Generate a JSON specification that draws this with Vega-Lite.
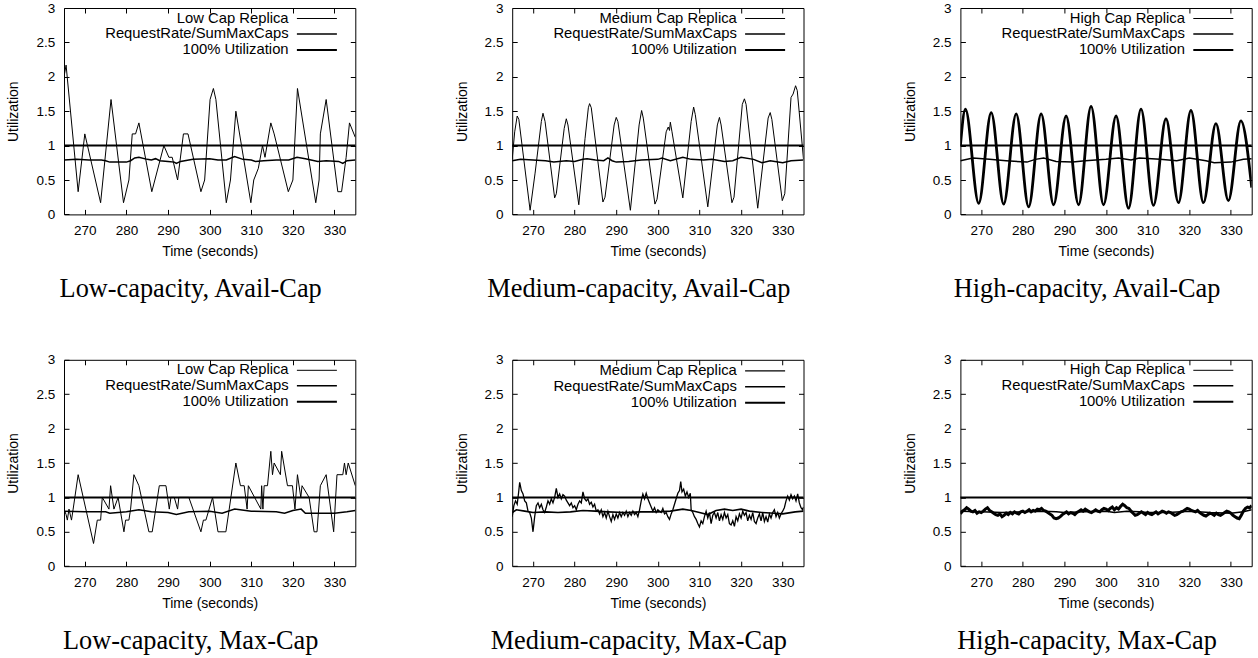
{
"$schema": "https://vega.github.io/schema/vega-lite/v6.json",
"padding": {"left": 6, "top": 0, "right": 0, "bottom": 0},
"datasets": {"d": [
{"p":"LA","s":"r","t":265,"u":2.0},{"p":"LA","s":"r","t":265.5,"u":2.17},{"p":"LA","s":"r","t":268.4,"u":0.33},{"p":"LA","s":"r","t":270,"u":1.17},{"p":"LA","s":"r","t":273.8,"u":0.17},{"p":"LA","s":"r","t":276.3,"u":1.67},{"p":"LA","s":"r","t":279.3,"u":0.17},{"p":"LA","s":"r","t":280.6,"u":0.5},{"p":"LA","s":"r","t":281.4,"u":1.17},{"p":"LA","s":"r","t":282.2,"u":1.17},{"p":"LA","s":"r","t":283,"u":1.33},{"p":"LA","s":"r","t":286.1,"u":0.33},{"p":"LA","s":"r","t":289,"u":1.0},{"p":"LA","s":"r","t":290.2,"u":0.83},{"p":"LA","s":"r","t":291,"u":0.83},{"p":"LA","s":"r","t":292.3,"u":0.5},{"p":"LA","s":"r","t":293.7,"u":1.17},{"p":"LA","s":"r","t":294.8,"u":1.17},{"p":"LA","s":"r","t":297.9,"u":0.33},{"p":"LA","s":"r","t":298.8,"u":0.5},{"p":"LA","s":"r","t":300.1,"u":1.67},{"p":"LA","s":"r","t":300.9,"u":1.83},{"p":"LA","s":"r","t":301.5,"u":1.67},{"p":"LA","s":"r","t":304,"u":0.17},{"p":"LA","s":"r","t":305,"u":0.5},{"p":"LA","s":"r","t":306.3,"u":1.5},{"p":"LA","s":"r","t":309.9,"u":0.17},{"p":"LA","s":"r","t":310.6,"u":0.5},{"p":"LA","s":"r","t":311.7,"u":0.67},{"p":"LA","s":"r","t":312.7,"u":1.0},{"p":"LA","s":"r","t":313.3,"u":0.83},{"p":"LA","s":"r","t":314.7,"u":1.33},{"p":"LA","s":"r","t":315.5,"u":1.17},{"p":"LA","s":"r","t":318.9,"u":0.33},{"p":"LA","s":"r","t":320,"u":0.5},{"p":"LA","s":"r","t":321.1,"u":1.83},{"p":"LA","s":"r","t":325.5,"u":0.17},{"p":"LA","s":"r","t":326.3,"u":0.5},{"p":"LA","s":"r","t":326.6,"u":1.17},{"p":"LA","s":"r","t":328,"u":1.67},{"p":"LA","s":"r","t":330.8,"u":0.33},{"p":"LA","s":"r","t":331.7,"u":0.33},{"p":"LA","s":"r","t":332.8,"u":0.83},{"p":"LA","s":"r","t":333.6,"u":1.33},{"p":"LA","s":"r","t":335,"u":1.12},
{"p":"LA","s":"q","t":265,"u":0.79},{"p":"LA","s":"q","t":268,"u":0.8},{"p":"LA","s":"q","t":271,"u":0.79},{"p":"LA","s":"q","t":274,"u":0.79},{"p":"LA","s":"q","t":275,"u":0.78},{"p":"LA","s":"q","t":276,"u":0.76},{"p":"LA","s":"q","t":280,"u":0.76},{"p":"LA","s":"q","t":281,"u":0.78},{"p":"LA","s":"q","t":282,"u":0.82},{"p":"LA","s":"q","t":283,"u":0.83},{"p":"LA","s":"q","t":285,"u":0.8},{"p":"LA","s":"q","t":286,"u":0.79},{"p":"LA","s":"q","t":287,"u":0.81},{"p":"LA","s":"q","t":288,"u":0.78},{"p":"LA","s":"q","t":290,"u":0.77},{"p":"LA","s":"q","t":291.5,"u":0.76},{"p":"LA","s":"q","t":292,"u":0.74},{"p":"LA","s":"q","t":293,"u":0.77},{"p":"LA","s":"q","t":296,"u":0.8},{"p":"LA","s":"q","t":300,"u":0.81},{"p":"LA","s":"q","t":302,"u":0.79},{"p":"LA","s":"q","t":304,"u":0.79},{"p":"LA","s":"q","t":306,"u":0.84},{"p":"LA","s":"q","t":308,"u":0.8},{"p":"LA","s":"q","t":310,"u":0.79},{"p":"LA","s":"q","t":311,"u":0.77},{"p":"LA","s":"q","t":313,"u":0.78},{"p":"LA","s":"q","t":316,"u":0.79},{"p":"LA","s":"q","t":319,"u":0.79},{"p":"LA","s":"q","t":321,"u":0.83},{"p":"LA","s":"q","t":323,"u":0.81},{"p":"LA","s":"q","t":326,"u":0.77},{"p":"LA","s":"q","t":328,"u":0.78},{"p":"LA","s":"q","t":331,"u":0.77},{"p":"LA","s":"q","t":332,"u":0.74},{"p":"LA","s":"q","t":333,"u":0.78},{"p":"LA","s":"q","t":335,"u":0.79},
{"p":"MA","s":"r","t":265,"u":0.8},{"p":"MA","s":"r","t":265.6,"u":1.2},{"p":"MA","s":"r","t":266.2,"u":1.43},{"p":"MA","s":"r","t":266.6,"u":1.38},{"p":"MA","s":"r","t":269.3,"u":0.06},{"p":"MA","s":"r","t":270.5,"u":0.6},{"p":"MA","s":"r","t":272,"u":1.35},{"p":"MA","s":"r","t":272.4,"u":1.47},{"p":"MA","s":"r","t":272.9,"u":1.35},{"p":"MA","s":"r","t":275.2,"u":0.24},{"p":"MA","s":"r","t":275.6,"u":0.3},{"p":"MA","s":"r","t":277.5,"u":1.25},{"p":"MA","s":"r","t":278,"u":1.39},{"p":"MA","s":"r","t":278.4,"u":1.3},{"p":"MA","s":"r","t":281,"u":0.14},{"p":"MA","s":"r","t":282.5,"u":1.1},{"p":"MA","s":"r","t":283.3,"u":1.55},{"p":"MA","s":"r","t":283.6,"u":1.61},{"p":"MA","s":"r","t":284,"u":1.55},{"p":"MA","s":"r","t":286.8,"u":0.18},{"p":"MA","s":"r","t":287.3,"u":0.25},{"p":"MA","s":"r","t":289.5,"u":1.3},{"p":"MA","s":"r","t":290,"u":1.41},{"p":"MA","s":"r","t":290.4,"u":1.35},{"p":"MA","s":"r","t":293.4,"u":0.06},{"p":"MA","s":"r","t":295.5,"u":1.3},{"p":"MA","s":"r","t":296.1,"u":1.51},{"p":"MA","s":"r","t":296.5,"u":1.4},{"p":"MA","s":"r","t":299.3,"u":0.15},{"p":"MA","s":"r","t":299.8,"u":0.22},{"p":"MA","s":"r","t":302,"u":1.2},{"p":"MA","s":"r","t":302.5,"u":1.27},{"p":"MA","s":"r","t":302.8,"u":1.22},{"p":"MA","s":"r","t":303,"u":1.34},{"p":"MA","s":"r","t":303.4,"u":1.2},{"p":"MA","s":"r","t":306,"u":0.24},{"p":"MA","s":"r","t":308,"u":1.35},{"p":"MA","s":"r","t":308.6,"u":1.56},{"p":"MA","s":"r","t":309,"u":1.45},{"p":"MA","s":"r","t":312,"u":0.11},{"p":"MA","s":"r","t":314.3,"u":1.3},{"p":"MA","s":"r","t":314.8,"u":1.41},{"p":"MA","s":"r","t":315.2,"u":1.3},{"p":"MA","s":"r","t":317.8,"u":0.17},{"p":"MA","s":"r","t":318.3,"u":0.25},{"p":"MA","s":"r","t":320.3,"u":1.6},{"p":"MA","s":"r","t":320.8,"u":1.68},{"p":"MA","s":"r","t":321.2,"u":1.6},{"p":"MA","s":"r","t":324,"u":0.09},{"p":"MA","s":"r","t":326.5,"u":1.4},{"p":"MA","s":"r","t":327,"u":1.48},{"p":"MA","s":"r","t":327.4,"u":1.38},{"p":"MA","s":"r","t":329.9,"u":0.2},{"p":"MA","s":"r","t":330.5,"u":0.3},{"p":"MA","s":"r","t":332,"u":1.7},{"p":"MA","s":"r","t":332.5,"u":1.75},{"p":"MA","s":"r","t":333.1,"u":1.87},{"p":"MA","s":"r","t":333.5,"u":1.8},{"p":"MA","s":"r","t":335,"u":0.8},
{"p":"MA","s":"q","t":265,"u":0.78},{"p":"MA","s":"q","t":267,"u":0.8},{"p":"MA","s":"q","t":270,"u":0.79},{"p":"MA","s":"q","t":273,"u":0.78},{"p":"MA","s":"q","t":275,"u":0.76},{"p":"MA","s":"q","t":278,"u":0.78},{"p":"MA","s":"q","t":280,"u":0.77},{"p":"MA","s":"q","t":282,"u":0.8},{"p":"MA","s":"q","t":283,"u":0.81},{"p":"MA","s":"q","t":285,"u":0.79},{"p":"MA","s":"q","t":287,"u":0.78},{"p":"MA","s":"q","t":288,"u":0.82},{"p":"MA","s":"q","t":289,"u":0.78},{"p":"MA","s":"q","t":290,"u":0.76},{"p":"MA","s":"q","t":293,"u":0.77},{"p":"MA","s":"q","t":296,"u":0.79},{"p":"MA","s":"q","t":300,"u":0.8},{"p":"MA","s":"q","t":301,"u":0.82},{"p":"MA","s":"q","t":303,"u":0.78},{"p":"MA","s":"q","t":306,"u":0.83},{"p":"MA","s":"q","t":308,"u":0.8},{"p":"MA","s":"q","t":311,"u":0.79},{"p":"MA","s":"q","t":313,"u":0.8},{"p":"MA","s":"q","t":316,"u":0.77},{"p":"MA","s":"q","t":318,"u":0.78},{"p":"MA","s":"q","t":320,"u":0.83},{"p":"MA","s":"q","t":323,"u":0.8},{"p":"MA","s":"q","t":325,"u":0.75},{"p":"MA","s":"q","t":327,"u":0.78},{"p":"MA","s":"q","t":330,"u":0.75},{"p":"MA","s":"q","t":332,"u":0.78},{"p":"MA","s":"q","t":335,"u":0.79},
{"p":"HA","s":"r","t":265,"u":1.0},{"p":"HA","s":"r","t":266.2,"u":1.53},{"p":"HA","s":"r","t":269.4,"u":0.16},{"p":"HA","s":"r","t":272.4,"u":1.48},{"p":"HA","s":"r","t":275.4,"u":0.15},{"p":"HA","s":"r","t":278.4,"u":1.46},{"p":"HA","s":"r","t":281.4,"u":0.11},{"p":"HA","s":"r","t":284.4,"u":1.46},{"p":"HA","s":"r","t":287.4,"u":0.14},{"p":"HA","s":"r","t":290.4,"u":1.43},{"p":"HA","s":"r","t":293.4,"u":0.14},{"p":"HA","s":"r","t":296.4,"u":1.57},{"p":"HA","s":"r","t":299.4,"u":0.14},{"p":"HA","s":"r","t":302.4,"u":1.43},{"p":"HA","s":"r","t":305.4,"u":0.09},{"p":"HA","s":"r","t":308.4,"u":1.53},{"p":"HA","s":"r","t":311.4,"u":0.13},{"p":"HA","s":"r","t":314.4,"u":1.39},{"p":"HA","s":"r","t":317.4,"u":0.17},{"p":"HA","s":"r","t":320.4,"u":1.51},{"p":"HA","s":"r","t":323.4,"u":0.17},{"p":"HA","s":"r","t":326.4,"u":1.32},{"p":"HA","s":"r","t":329.4,"u":0.2},{"p":"HA","s":"r","t":332.4,"u":1.36},{"p":"HA","s":"r","t":335,"u":0.39},
{"p":"HA","s":"q","t":265,"u":0.78},{"p":"HA","s":"q","t":268,"u":0.82},{"p":"HA","s":"q","t":272,"u":0.8},{"p":"HA","s":"q","t":276,"u":0.78},{"p":"HA","s":"q","t":281,"u":0.76},{"p":"HA","s":"q","t":283,"u":0.8},{"p":"HA","s":"q","t":285,"u":0.82},{"p":"HA","s":"q","t":288,"u":0.77},{"p":"HA","s":"q","t":292,"u":0.76},{"p":"HA","s":"q","t":295,"u":0.78},{"p":"HA","s":"q","t":300,"u":0.8},{"p":"HA","s":"q","t":303,"u":0.82},{"p":"HA","s":"q","t":306,"u":0.79},{"p":"HA","s":"q","t":308,"u":0.82},{"p":"HA","s":"q","t":313,"u":0.8},{"p":"HA","s":"q","t":317,"u":0.78},{"p":"HA","s":"q","t":320,"u":0.82},{"p":"HA","s":"q","t":324,"u":0.78},{"p":"HA","s":"q","t":326,"u":0.75},{"p":"HA","s":"q","t":330,"u":0.76},{"p":"HA","s":"q","t":333,"u":0.8},{"p":"HA","s":"q","t":335,"u":0.81},
{"p":"LM","s":"r","t":265,"u":0.83},{"p":"LM","s":"r","t":265.5,"u":0.75},{"p":"LM","s":"r","t":265.8,"u":0.67},{"p":"LM","s":"r","t":266.2,"u":0.83},{"p":"LM","s":"r","t":266.8,"u":0.67},{"p":"LM","s":"r","t":267.2,"u":0.83},{"p":"LM","s":"r","t":268.4,"u":1.33},{"p":"LM","s":"r","t":272.1,"u":0.33},{"p":"LM","s":"r","t":273,"u":0.67},{"p":"LM","s":"r","t":273.8,"u":0.67},{"p":"LM","s":"r","t":274.2,"u":1.0},{"p":"LM","s":"r","t":275.8,"u":0.83},{"p":"LM","s":"r","t":276.2,"u":1.17},{"p":"LM","s":"r","t":277,"u":0.83},{"p":"LM","s":"r","t":278,"u":1.0},{"p":"LM","s":"r","t":279.4,"u":0.5},{"p":"LM","s":"r","t":279.8,"u":0.67},{"p":"LM","s":"r","t":280.6,"u":0.67},{"p":"LM","s":"r","t":281,"u":0.83},{"p":"LM","s":"r","t":281.8,"u":1.33},{"p":"LM","s":"r","t":283,"u":1.17},{"p":"LM","s":"r","t":285.4,"u":0.5},{"p":"LM","s":"r","t":286.2,"u":0.5},{"p":"LM","s":"r","t":287.9,"u":1.17},{"p":"LM","s":"r","t":289.5,"u":1.17},{"p":"LM","s":"r","t":290.3,"u":0.83},{"p":"LM","s":"r","t":290.7,"u":1.0},{"p":"LM","s":"r","t":291.5,"u":1.0},{"p":"LM","s":"r","t":292.3,"u":0.83},{"p":"LM","s":"r","t":292.6,"u":1.0},{"p":"LM","s":"r","t":295,"u":1.0},{"p":"LM","s":"r","t":297.9,"u":0.5},{"p":"LM","s":"r","t":298.5,"u":0.67},{"p":"LM","s":"r","t":299.1,"u":0.67},{"p":"LM","s":"r","t":300.7,"u":1.0},{"p":"LM","s":"r","t":302,"u":0.5},{"p":"LM","s":"r","t":303.9,"u":0.5},{"p":"LM","s":"r","t":304.7,"u":0.83},{"p":"LM","s":"r","t":306.3,"u":1.5},{"p":"LM","s":"r","t":307.4,"u":1.17},{"p":"LM","s":"r","t":308.3,"u":1.17},{"p":"LM","s":"r","t":309,"u":0.83},{"p":"LM","s":"r","t":309.3,"u":1.17},{"p":"LM","s":"r","t":312.3,"u":0.83},{"p":"LM","s":"r","t":312.5,"u":1.17},{"p":"LM","s":"r","t":312.8,"u":0.83},{"p":"LM","s":"r","t":313.1,"u":1.17},{"p":"LM","s":"r","t":313.9,"u":1.17},{"p":"LM","s":"r","t":314.7,"u":1.67},{"p":"LM","s":"r","t":315.1,"u":1.33},{"p":"LM","s":"r","t":315.5,"u":1.5},{"p":"LM","s":"r","t":317,"u":1.33},{"p":"LM","s":"r","t":317.3,"u":1.67},{"p":"LM","s":"r","t":318.7,"u":1.17},{"p":"LM","s":"r","t":319.9,"u":1.17},{"p":"LM","s":"r","t":320.5,"u":0.83},{"p":"LM","s":"r","t":321.1,"u":1.33},{"p":"LM","s":"r","t":321.9,"u":1.0},{"p":"LM","s":"r","t":322.2,"u":1.17},{"p":"LM","s":"r","t":323.9,"u":1.0},{"p":"LM","s":"r","t":325.1,"u":0.5},{"p":"LM","s":"r","t":325.8,"u":0.5},{"p":"LM","s":"r","t":326.6,"u":1.17},{"p":"LM","s":"r","t":328,"u":1.33},{"p":"LM","s":"r","t":329.8,"u":0.5},{"p":"LM","s":"r","t":330.6,"u":1.33},{"p":"LM","s":"r","t":332,"u":1.33},{"p":"LM","s":"r","t":332.4,"u":1.5},{"p":"LM","s":"r","t":332.8,"u":1.33},{"p":"LM","s":"r","t":333.3,"u":1.5},{"p":"LM","s":"r","t":335,"u":1.17},
{"p":"LM","s":"q","t":265,"u":0.8},{"p":"LM","s":"q","t":270,"u":0.79},{"p":"LM","s":"q","t":275,"u":0.79},{"p":"LM","s":"q","t":276,"u":0.77},{"p":"LM","s":"q","t":280,"u":0.79},{"p":"LM","s":"q","t":283,"u":0.82},{"p":"LM","s":"q","t":286,"u":0.79},{"p":"LM","s":"q","t":290,"u":0.78},{"p":"LM","s":"q","t":292,"u":0.75},{"p":"LM","s":"q","t":295,"u":0.79},{"p":"LM","s":"q","t":300,"u":0.8},{"p":"LM","s":"q","t":303,"u":0.77},{"p":"LM","s":"q","t":306,"u":0.83},{"p":"LM","s":"q","t":310,"u":0.8},{"p":"LM","s":"q","t":316,"u":0.79},{"p":"LM","s":"q","t":318,"u":0.77},{"p":"LM","s":"q","t":320,"u":0.81},{"p":"LM","s":"q","t":322,"u":0.83},{"p":"LM","s":"q","t":323,"u":0.77},{"p":"LM","s":"q","t":330,"u":0.77},{"p":"LM","s":"q","t":333,"u":0.79},{"p":"LM","s":"q","t":335,"u":0.81},
{"p":"MM","s":"r","t":265,"u":0.72},{"p":"MM","s":"r","t":265.4,"u":0.88},{"p":"MM","s":"r","t":265.8,"u":0.95},{"p":"MM","s":"r","t":266.2,"u":0.9},{"p":"MM","s":"r","t":266.5,"u":1.05},{"p":"MM","s":"r","t":266.8,"u":1.22},{"p":"MM","s":"r","t":267.2,"u":1.1},{"p":"MM","s":"r","t":267.6,"u":1.05},{"p":"MM","s":"r","t":268,"u":0.95},{"p":"MM","s":"r","t":268.4,"u":0.92},{"p":"MM","s":"r","t":268.8,"u":0.8},{"p":"MM","s":"r","t":269.2,"u":0.78},{"p":"MM","s":"r","t":269.6,"u":0.7},{"p":"MM","s":"r","t":270,"u":0.5},{"p":"MM","s":"r","t":270.4,"u":0.72},{"p":"MM","s":"r","t":270.8,"u":0.88},{"p":"MM","s":"r","t":271.2,"u":0.92},{"p":"MM","s":"r","t":271.6,"u":0.85},{"p":"MM","s":"r","t":272,"u":0.9},{"p":"MM","s":"r","t":272.4,"u":0.82},{"p":"MM","s":"r","t":272.8,"u":0.78},{"p":"MM","s":"r","t":273.2,"u":0.86},{"p":"MM","s":"r","t":273.6,"u":0.95},{"p":"MM","s":"r","t":274,"u":0.9},{"p":"MM","s":"r","t":274.4,"u":0.98},{"p":"MM","s":"r","t":274.8,"u":0.92},{"p":"MM","s":"r","t":275.2,"u":1.0},{"p":"MM","s":"r","t":275.6,"u":1.13},{"p":"MM","s":"r","t":276,"u":1.0},{"p":"MM","s":"r","t":276.4,"u":1.05},{"p":"MM","s":"r","t":276.8,"u":0.98},{"p":"MM","s":"r","t":277.2,"u":1.04},{"p":"MM","s":"r","t":277.6,"u":1.02},{"p":"MM","s":"r","t":278,"u":0.96},{"p":"MM","s":"r","t":278.4,"u":0.92},{"p":"MM","s":"r","t":278.8,"u":0.88},{"p":"MM","s":"r","t":279.2,"u":0.92},{"p":"MM","s":"r","t":279.6,"u":0.85},{"p":"MM","s":"r","t":280,"u":0.88},{"p":"MM","s":"r","t":280.4,"u":0.82},{"p":"MM","s":"r","t":280.8,"u":0.9},{"p":"MM","s":"r","t":281.2,"u":0.95},{"p":"MM","s":"r","t":281.6,"u":0.92},{"p":"MM","s":"r","t":282,"u":1.08},{"p":"MM","s":"r","t":282.4,"u":0.98},{"p":"MM","s":"r","t":282.8,"u":0.95},{"p":"MM","s":"r","t":283.2,"u":0.98},{"p":"MM","s":"r","t":283.6,"u":0.9},{"p":"MM","s":"r","t":284,"u":0.93},{"p":"MM","s":"r","t":284.4,"u":0.86},{"p":"MM","s":"r","t":284.8,"u":0.9},{"p":"MM","s":"r","t":285.2,"u":0.8},{"p":"MM","s":"r","t":285.6,"u":0.82},{"p":"MM","s":"r","t":286,"u":0.76},{"p":"MM","s":"r","t":286.4,"u":0.82},{"p":"MM","s":"r","t":286.8,"u":0.72},{"p":"MM","s":"r","t":287.2,"u":0.78},{"p":"MM","s":"r","t":287.6,"u":0.7},{"p":"MM","s":"r","t":288,"u":0.8},{"p":"MM","s":"r","t":288.4,"u":0.72},{"p":"MM","s":"r","t":288.8,"u":0.65},{"p":"MM","s":"r","t":289.2,"u":0.75},{"p":"MM","s":"r","t":289.6,"u":0.68},{"p":"MM","s":"r","t":290,"u":0.76},{"p":"MM","s":"r","t":290.4,"u":0.7},{"p":"MM","s":"r","t":290.8,"u":0.78},{"p":"MM","s":"r","t":291.2,"u":0.72},{"p":"MM","s":"r","t":291.6,"u":0.78},{"p":"MM","s":"r","t":292,"u":0.74},{"p":"MM","s":"r","t":292.4,"u":0.8},{"p":"MM","s":"r","t":292.8,"u":0.72},{"p":"MM","s":"r","t":293.2,"u":0.78},{"p":"MM","s":"r","t":293.6,"u":0.74},{"p":"MM","s":"r","t":294,"u":0.8},{"p":"MM","s":"r","t":294.4,"u":0.75},{"p":"MM","s":"r","t":294.8,"u":0.78},{"p":"MM","s":"r","t":295.2,"u":0.72},{"p":"MM","s":"r","t":295.6,"u":0.82},{"p":"MM","s":"r","t":296,"u":0.95},{"p":"MM","s":"r","t":296.4,"u":1.05},{"p":"MM","s":"r","t":296.8,"u":0.98},{"p":"MM","s":"r","t":297.2,"u":1.06},{"p":"MM","s":"r","t":297.6,"u":0.98},{"p":"MM","s":"r","t":298,"u":0.92},{"p":"MM","s":"r","t":298.4,"u":0.86},{"p":"MM","s":"r","t":298.8,"u":0.8},{"p":"MM","s":"r","t":299.2,"u":0.85},{"p":"MM","s":"r","t":299.6,"u":0.78},{"p":"MM","s":"r","t":300,"u":0.82},{"p":"MM","s":"r","t":300.4,"u":0.8},{"p":"MM","s":"r","t":300.8,"u":0.78},{"p":"MM","s":"r","t":301.2,"u":0.84},{"p":"MM","s":"r","t":301.6,"u":0.76},{"p":"MM","s":"r","t":302,"u":0.78},{"p":"MM","s":"r","t":302.4,"u":0.72},{"p":"MM","s":"r","t":302.8,"u":0.68},{"p":"MM","s":"r","t":303.2,"u":0.76},{"p":"MM","s":"r","t":303.6,"u":0.82},{"p":"MM","s":"r","t":304,"u":0.9},{"p":"MM","s":"r","t":304.4,"u":0.98},{"p":"MM","s":"r","t":304.8,"u":1.06},{"p":"MM","s":"r","t":305.2,"u":1.1},{"p":"MM","s":"r","t":305.5,"u":1.23},{"p":"MM","s":"r","t":305.8,"u":1.08},{"p":"MM","s":"r","t":306.2,"u":1.12},{"p":"MM","s":"r","t":306.6,"u":1.02},{"p":"MM","s":"r","t":307,"u":1.08},{"p":"MM","s":"r","t":307.4,"u":1.0},{"p":"MM","s":"r","t":307.8,"u":1.06},{"p":"MM","s":"r","t":308,"u":0.82},{"p":"MM","s":"r","t":308.4,"u":0.78},{"p":"MM","s":"r","t":308.8,"u":0.72},{"p":"MM","s":"r","t":309.2,"u":0.68},{"p":"MM","s":"r","t":309.6,"u":0.62},{"p":"MM","s":"r","t":310,"u":0.57},{"p":"MM","s":"r","t":310.4,"u":0.66},{"p":"MM","s":"r","t":310.8,"u":0.62},{"p":"MM","s":"r","t":311.2,"u":0.72},{"p":"MM","s":"r","t":311.6,"u":0.8},{"p":"MM","s":"r","t":312,"u":0.7},{"p":"MM","s":"r","t":312.4,"u":0.78},{"p":"MM","s":"r","t":312.8,"u":0.62},{"p":"MM","s":"r","t":313.2,"u":0.74},{"p":"MM","s":"r","t":313.6,"u":0.78},{"p":"MM","s":"r","t":314,"u":0.7},{"p":"MM","s":"r","t":314.4,"u":0.78},{"p":"MM","s":"r","t":314.8,"u":0.66},{"p":"MM","s":"r","t":315.2,"u":0.75},{"p":"MM","s":"r","t":315.6,"u":0.68},{"p":"MM","s":"r","t":316,"u":0.78},{"p":"MM","s":"r","t":316.4,"u":0.7},{"p":"MM","s":"r","t":316.8,"u":0.75},{"p":"MM","s":"r","t":317.2,"u":0.62},{"p":"MM","s":"r","t":317.6,"u":0.6},{"p":"MM","s":"r","t":318,"u":0.66},{"p":"MM","s":"r","t":318.4,"u":0.58},{"p":"MM","s":"r","t":318.8,"u":0.72},{"p":"MM","s":"r","t":319.2,"u":0.66},{"p":"MM","s":"r","t":319.6,"u":0.76},{"p":"MM","s":"r","t":320,"u":0.7},{"p":"MM","s":"r","t":320.4,"u":0.8},{"p":"MM","s":"r","t":320.8,"u":0.74},{"p":"MM","s":"r","t":321.2,"u":0.78},{"p":"MM","s":"r","t":321.6,"u":0.66},{"p":"MM","s":"r","t":322,"u":0.74},{"p":"MM","s":"r","t":322.4,"u":0.68},{"p":"MM","s":"r","t":322.8,"u":0.78},{"p":"MM","s":"r","t":323.2,"u":0.65},{"p":"MM","s":"r","t":323.6,"u":0.62},{"p":"MM","s":"r","t":324,"u":0.7},{"p":"MM","s":"r","t":324.4,"u":0.76},{"p":"MM","s":"r","t":324.8,"u":0.66},{"p":"MM","s":"r","t":325.2,"u":0.78},{"p":"MM","s":"r","t":325.6,"u":0.65},{"p":"MM","s":"r","t":326,"u":0.72},{"p":"MM","s":"r","t":326.4,"u":0.64},{"p":"MM","s":"r","t":326.8,"u":0.76},{"p":"MM","s":"r","t":327.2,"u":0.7},{"p":"MM","s":"r","t":327.6,"u":0.78},{"p":"MM","s":"r","t":328,"u":0.82},{"p":"MM","s":"r","t":328.4,"u":0.72},{"p":"MM","s":"r","t":328.8,"u":0.78},{"p":"MM","s":"r","t":329.2,"u":0.7},{"p":"MM","s":"r","t":329.6,"u":0.76},{"p":"MM","s":"r","t":330,"u":0.8},{"p":"MM","s":"r","t":330.4,"u":0.85},{"p":"MM","s":"r","t":330.8,"u":0.95},{"p":"MM","s":"r","t":331.2,"u":1.02},{"p":"MM","s":"r","t":331.6,"u":0.96},{"p":"MM","s":"r","t":332,"u":1.04},{"p":"MM","s":"r","t":332.4,"u":0.98},{"p":"MM","s":"r","t":332.8,"u":1.02},{"p":"MM","s":"r","t":333.2,"u":0.95},{"p":"MM","s":"r","t":333.6,"u":1.05},{"p":"MM","s":"r","t":334,"u":0.92},{"p":"MM","s":"r","t":334.4,"u":0.85},{"p":"MM","s":"r","t":334.8,"u":0.82},{"p":"MM","s":"r","t":335,"u":0.86},
{"p":"MM","s":"q","t":265,"u":0.78},{"p":"MM","s":"q","t":266,"u":0.82},{"p":"MM","s":"q","t":268,"u":0.8},{"p":"MM","s":"q","t":270,"u":0.78},{"p":"MM","s":"q","t":273,"u":0.79},{"p":"MM","s":"q","t":276,"u":0.78},{"p":"MM","s":"q","t":279,"u":0.79},{"p":"MM","s":"q","t":282,"u":0.81},{"p":"MM","s":"q","t":285,"u":0.8},{"p":"MM","s":"q","t":288,"u":0.79},{"p":"MM","s":"q","t":292,"u":0.78},{"p":"MM","s":"q","t":296,"u":0.79},{"p":"MM","s":"q","t":300,"u":0.79},{"p":"MM","s":"q","t":303,"u":0.8},{"p":"MM","s":"q","t":306,"u":0.83},{"p":"MM","s":"q","t":308,"u":0.81},{"p":"MM","s":"q","t":310,"u":0.78},{"p":"MM","s":"q","t":312,"u":0.75},{"p":"MM","s":"q","t":314,"u":0.81},{"p":"MM","s":"q","t":316,"u":0.83},{"p":"MM","s":"q","t":318,"u":0.81},{"p":"MM","s":"q","t":320,"u":0.83},{"p":"MM","s":"q","t":322,"u":0.8},{"p":"MM","s":"q","t":325,"u":0.78},{"p":"MM","s":"q","t":328,"u":0.77},{"p":"MM","s":"q","t":330,"u":0.76},{"p":"MM","s":"q","t":333,"u":0.79},{"p":"MM","s":"q","t":335,"u":0.8},
{"p":"HM","s":"r","t":265,"u":0.76},{"p":"HM","s":"r","t":265.5,"u":0.8},{"p":"HM","s":"r","t":266,"u":0.82},{"p":"HM","s":"r","t":266.5,"u":0.85},{"p":"HM","s":"r","t":267,"u":0.83},{"p":"HM","s":"r","t":267.5,"u":0.8},{"p":"HM","s":"r","t":268,"u":0.79},{"p":"HM","s":"r","t":268.5,"u":0.81},{"p":"HM","s":"r","t":269,"u":0.77},{"p":"HM","s":"r","t":269.5,"u":0.79},{"p":"HM","s":"r","t":270,"u":0.78},{"p":"HM","s":"r","t":270.5,"u":0.8},{"p":"HM","s":"r","t":271,"u":0.83},{"p":"HM","s":"r","t":271.5,"u":0.85},{"p":"HM","s":"r","t":272,"u":0.81},{"p":"HM","s":"r","t":272.5,"u":0.79},{"p":"HM","s":"r","t":273,"u":0.77},{"p":"HM","s":"r","t":273.5,"u":0.75},{"p":"HM","s":"r","t":274,"u":0.74},{"p":"HM","s":"r","t":274.5,"u":0.76},{"p":"HM","s":"r","t":275,"u":0.72},{"p":"HM","s":"r","t":275.5,"u":0.74},{"p":"HM","s":"r","t":276,"u":0.77},{"p":"HM","s":"r","t":276.5,"u":0.75},{"p":"HM","s":"r","t":277,"u":0.78},{"p":"HM","s":"r","t":277.5,"u":0.76},{"p":"HM","s":"r","t":278,"u":0.79},{"p":"HM","s":"r","t":278.5,"u":0.77},{"p":"HM","s":"r","t":279,"u":0.76},{"p":"HM","s":"r","t":279.5,"u":0.79},{"p":"HM","s":"r","t":280,"u":0.8},{"p":"HM","s":"r","t":280.5,"u":0.78},{"p":"HM","s":"r","t":281,"u":0.8},{"p":"HM","s":"r","t":281.5,"u":0.82},{"p":"HM","s":"r","t":282,"u":0.79},{"p":"HM","s":"r","t":282.5,"u":0.81},{"p":"HM","s":"r","t":283,"u":0.8},{"p":"HM","s":"r","t":283.5,"u":0.83},{"p":"HM","s":"r","t":284,"u":0.82},{"p":"HM","s":"r","t":284.5,"u":0.84},{"p":"HM","s":"r","t":285,"u":0.81},{"p":"HM","s":"r","t":285.5,"u":0.8},{"p":"HM","s":"r","t":286,"u":0.78},{"p":"HM","s":"r","t":286.5,"u":0.76},{"p":"HM","s":"r","t":287,"u":0.74},{"p":"HM","s":"r","t":287.5,"u":0.7},{"p":"HM","s":"r","t":288,"u":0.69},{"p":"HM","s":"r","t":288.5,"u":0.7},{"p":"HM","s":"r","t":289,"u":0.72},{"p":"HM","s":"r","t":289.5,"u":0.75},{"p":"HM","s":"r","t":290,"u":0.77},{"p":"HM","s":"r","t":290.5,"u":0.79},{"p":"HM","s":"r","t":291,"u":0.76},{"p":"HM","s":"r","t":291.5,"u":0.78},{"p":"HM","s":"r","t":292,"u":0.77},{"p":"HM","s":"r","t":292.5,"u":0.75},{"p":"HM","s":"r","t":293,"u":0.78},{"p":"HM","s":"r","t":293.5,"u":0.8},{"p":"HM","s":"r","t":294,"u":0.82},{"p":"HM","s":"r","t":294.5,"u":0.8},{"p":"HM","s":"r","t":295,"u":0.83},{"p":"HM","s":"r","t":295.5,"u":0.81},{"p":"HM","s":"r","t":296,"u":0.79},{"p":"HM","s":"r","t":296.5,"u":0.78},{"p":"HM","s":"r","t":297,"u":0.8},{"p":"HM","s":"r","t":297.5,"u":0.82},{"p":"HM","s":"r","t":298,"u":0.8},{"p":"HM","s":"r","t":298.5,"u":0.79},{"p":"HM","s":"r","t":299,"u":0.82},{"p":"HM","s":"r","t":299.5,"u":0.84},{"p":"HM","s":"r","t":300,"u":0.83},{"p":"HM","s":"r","t":300.5,"u":0.81},{"p":"HM","s":"r","t":301,"u":0.84},{"p":"HM","s":"r","t":301.5,"u":0.86},{"p":"HM","s":"r","t":302,"u":0.82},{"p":"HM","s":"r","t":302.5,"u":0.85},{"p":"HM","s":"r","t":303,"u":0.83},{"p":"HM","s":"r","t":303.5,"u":0.87},{"p":"HM","s":"r","t":304,"u":0.9},{"p":"HM","s":"r","t":304.5,"u":0.88},{"p":"HM","s":"r","t":305,"u":0.85},{"p":"HM","s":"r","t":305.5,"u":0.84},{"p":"HM","s":"r","t":306,"u":0.8},{"p":"HM","s":"r","t":306.5,"u":0.77},{"p":"HM","s":"r","t":307,"u":0.74},{"p":"HM","s":"r","t":307.5,"u":0.75},{"p":"HM","s":"r","t":308,"u":0.77},{"p":"HM","s":"r","t":308.5,"u":0.79},{"p":"HM","s":"r","t":309,"u":0.77},{"p":"HM","s":"r","t":309.5,"u":0.75},{"p":"HM","s":"r","t":310,"u":0.78},{"p":"HM","s":"r","t":310.5,"u":0.76},{"p":"HM","s":"r","t":311,"u":0.75},{"p":"HM","s":"r","t":311.5,"u":0.77},{"p":"HM","s":"r","t":312,"u":0.79},{"p":"HM","s":"r","t":312.5,"u":0.76},{"p":"HM","s":"r","t":313,"u":0.78},{"p":"HM","s":"r","t":313.5,"u":0.8},{"p":"HM","s":"r","t":314,"u":0.79},{"p":"HM","s":"r","t":314.5,"u":0.77},{"p":"HM","s":"r","t":315,"u":0.79},{"p":"HM","s":"r","t":315.5,"u":0.78},{"p":"HM","s":"r","t":316,"u":0.76},{"p":"HM","s":"r","t":316.5,"u":0.74},{"p":"HM","s":"r","t":317,"u":0.75},{"p":"HM","s":"r","t":317.5,"u":0.77},{"p":"HM","s":"r","t":318,"u":0.79},{"p":"HM","s":"r","t":318.5,"u":0.8},{"p":"HM","s":"r","t":319,"u":0.82},{"p":"HM","s":"r","t":319.5,"u":0.84},{"p":"HM","s":"r","t":320,"u":0.83},{"p":"HM","s":"r","t":320.5,"u":0.81},{"p":"HM","s":"r","t":321,"u":0.8},{"p":"HM","s":"r","t":321.5,"u":0.79},{"p":"HM","s":"r","t":322,"u":0.81},{"p":"HM","s":"r","t":322.5,"u":0.78},{"p":"HM","s":"r","t":323,"u":0.76},{"p":"HM","s":"r","t":323.5,"u":0.74},{"p":"HM","s":"r","t":324,"u":0.73},{"p":"HM","s":"r","t":324.5,"u":0.75},{"p":"HM","s":"r","t":325,"u":0.77},{"p":"HM","s":"r","t":325.5,"u":0.76},{"p":"HM","s":"r","t":326,"u":0.74},{"p":"HM","s":"r","t":326.5,"u":0.77},{"p":"HM","s":"r","t":327,"u":0.75},{"p":"HM","s":"r","t":327.5,"u":0.74},{"p":"HM","s":"r","t":328,"u":0.76},{"p":"HM","s":"r","t":328.5,"u":0.78},{"p":"HM","s":"r","t":329,"u":0.8},{"p":"HM","s":"r","t":329.5,"u":0.79},{"p":"HM","s":"r","t":330,"u":0.77},{"p":"HM","s":"r","t":330.5,"u":0.74},{"p":"HM","s":"r","t":331,"u":0.72},{"p":"HM","s":"r","t":331.5,"u":0.7},{"p":"HM","s":"r","t":332,"u":0.69},{"p":"HM","s":"r","t":332.5,"u":0.74},{"p":"HM","s":"r","t":333,"u":0.8},{"p":"HM","s":"r","t":333.5,"u":0.84},{"p":"HM","s":"r","t":334,"u":0.86},{"p":"HM","s":"r","t":334.5,"u":0.85},{"p":"HM","s":"r","t":335,"u":0.88},
{"p":"HM","s":"q","t":265,"u":0.8},{"p":"HM","s":"q","t":270,"u":0.79},{"p":"HM","s":"q","t":275,"u":0.78},{"p":"HM","s":"q","t":280,"u":0.79},{"p":"HM","s":"q","t":285,"u":0.8},{"p":"HM","s":"q","t":288,"u":0.79},{"p":"HM","s":"q","t":290,"u":0.78},{"p":"HM","s":"q","t":295,"u":0.79},{"p":"HM","s":"q","t":300,"u":0.8},{"p":"HM","s":"q","t":302,"u":0.78},{"p":"HM","s":"q","t":305,"u":0.8},{"p":"HM","s":"q","t":308,"u":0.79},{"p":"HM","s":"q","t":310,"u":0.78},{"p":"HM","s":"q","t":315,"u":0.78},{"p":"HM","s":"q","t":320,"u":0.8},{"p":"HM","s":"q","t":325,"u":0.78},{"p":"HM","s":"q","t":330,"u":0.77},{"p":"HM","s":"q","t":333,"u":0.79},{"p":"HM","s":"q","t":335,"u":0.82}
]},
"data": {"name": "d"},
"columns": 3,
"spacing": {"row": 144.8, "column": 156.2},
"bounds": "flush",
"resolve": {"scale": {"x": "independent", "y": "independent", "strokeWidth": "independent"}, "legend": {"strokeWidth": "independent"}, "axis": {"x": "independent", "y": "independent"}},
"concat": [
{"width": 291.3, "height": 206.4, "title": {"text": "Low-capacity, Avail-Cap"},
 "layer": [
  {"transform": [{"filter": "datum.p === 'LA' && datum.s === 'r'"}], "mark": {"type": "line", "color": "black", "clip": true},
   "encoding": {"x": {"field": "t", "type": "quantitative", "scale": {"domain": [265, 335], "nice": false, "zero": false}, "axis": {"title": "Time (seconds)", "values": [270,280,290,300,310,320,330], "format": "d"}},
    "y": {"field": "u", "type": "quantitative", "scale": {"domain": [0, 3], "nice": false}, "axis": {"title": "Utilization", "values": [0,0.5,1,1.5,2,2.5,3], "format": "~g"}},
    "strokeWidth": {"field": "s", "type": "nominal", "scale": {"domain": ["r","q","h"], "range": [1,2,2]}, "legend": {"title": null, "labelExpr": "datum.label === 'r' ? 'Low Cap Replica' : datum.label === 'q' ? 'RequestRate/SumMaxCaps' : '100% Utilization'"}}}},
  {"transform": [{"filter": "datum.p === 'LA' && datum.s === 'q'"}], "mark": {"type": "line", "color": "black", "clip": true},
   "encoding": {"x": {"field": "t", "type": "quantitative", "axis": {"orient": "top", "title": null, "labels": false, "values": [270,280,290,300,310,320,330]}},
    "y": {"field": "u", "type": "quantitative", "axis": {"orient": "right", "title": null, "labels": false, "values": [0.5,1,1.5,2,2.5]}},
    "strokeWidth": {"field": "s", "type": "nominal", "legend": {"title": null, "labelExpr": "datum.label === 'r' ? 'Low Cap Replica' : datum.label === 'q' ? 'RequestRate/SumMaxCaps' : '100% Utilization'"}}}},
  {"data": {"values": [{"u": 1}]}, "mark": {"type": "rule", "color": "black", "strokeWidth": 2}, "encoding": {"y": {"field": "u", "type": "quantitative", "axis": null}}}
 ],
 "resolve": {"axis": {"x": "independent", "y": "independent"}}},
{"width": 291.3, "height": 206.4, "title": {"text": "Medium-capacity, Avail-Cap"},
 "layer": [
  {"transform": [{"filter": "datum.p === 'MA' && datum.s === 'r'"}], "mark": {"type": "line", "color": "black", "clip": true},
   "encoding": {"x": {"field": "t", "type": "quantitative", "scale": {"domain": [265, 335], "nice": false, "zero": false}, "axis": {"title": "Time (seconds)", "values": [270,280,290,300,310,320,330], "format": "d"}},
    "y": {"field": "u", "type": "quantitative", "scale": {"domain": [0, 3], "nice": false}, "axis": {"title": "Utilization", "values": [0,0.5,1,1.5,2,2.5,3], "format": "~g"}},
    "strokeWidth": {"field": "s", "type": "nominal", "scale": {"domain": ["r","q","h"], "range": [1,2,2]}, "legend": {"title": null, "labelExpr": "datum.label === 'r' ? 'Medium Cap Replica' : datum.label === 'q' ? 'RequestRate/SumMaxCaps' : '100% Utilization'"}}}},
  {"transform": [{"filter": "datum.p === 'MA' && datum.s === 'q'"}], "mark": {"type": "line", "color": "black", "clip": true},
   "encoding": {"x": {"field": "t", "type": "quantitative", "axis": {"orient": "top", "title": null, "labels": false, "values": [270,280,290,300,310,320,330]}},
    "y": {"field": "u", "type": "quantitative", "axis": {"orient": "right", "title": null, "labels": false, "values": [0.5,1,1.5,2,2.5]}},
    "strokeWidth": {"field": "s", "type": "nominal", "legend": {"title": null, "labelExpr": "datum.label === 'r' ? 'Medium Cap Replica' : datum.label === 'q' ? 'RequestRate/SumMaxCaps' : '100% Utilization'"}}}},
  {"data": {"values": [{"u": 1}]}, "mark": {"type": "rule", "color": "black", "strokeWidth": 2}, "encoding": {"y": {"field": "u", "type": "quantitative", "axis": null}}}
 ],
 "resolve": {"axis": {"x": "independent", "y": "independent"}}},
{"width": 291.3, "height": 206.4, "title": {"text": "High-capacity, Avail-Cap"},
 "layer": [
  {"transform": [{"filter": "datum.p === 'HA' && datum.s === 'r'"}], "mark": {"type": "line", "color": "black", "clip": true, "interpolate": "monotone"},
   "encoding": {"x": {"field": "t", "type": "quantitative", "scale": {"domain": [265, 335], "nice": false, "zero": false}, "axis": {"title": "Time (seconds)", "values": [270,280,290,300,310,320,330], "format": "d"}},
    "y": {"field": "u", "type": "quantitative", "scale": {"domain": [0, 3], "nice": false}, "axis": {"title": "Utilization", "values": [0,0.5,1,1.5,2,2.5,3], "format": "~g"}},
    "strokeWidth": {"value": 2.8}}},
  {"transform": [{"filter": "datum.p === 'HA' && datum.s === 'q'"}], "mark": {"type": "line", "color": "black", "clip": true},
   "encoding": {"x": {"field": "t", "type": "quantitative", "axis": {"orient": "top", "title": null, "labels": false, "values": [270,280,290,300,310,320,330]}},
    "y": {"field": "u", "type": "quantitative", "axis": {"orient": "right", "title": null, "labels": false, "values": [0.5,1,1.5,2,2.5]}},
    "strokeWidth": {"field": "s", "type": "nominal", "scale": {"domain": ["r","q","h"], "range": [1,2,2]}, "legend": {"title": null, "labelExpr": "datum.label === 'r' ? 'High Cap Replica' : datum.label === 'q' ? 'RequestRate/SumMaxCaps' : '100% Utilization'"}}}},
  {"data": {"values": [{"u": 1}]}, "mark": {"type": "rule", "color": "black", "strokeWidth": 2}, "encoding": {"y": {"field": "u", "type": "quantitative", "axis": null}}}
 ],
 "resolve": {"axis": {"x": "independent", "y": "independent"}}},
{"width": 291.3, "height": 206.4, "title": {"text": "Low-capacity, Max-Cap"},
 "layer": [
  {"transform": [{"filter": "datum.p === 'LM' && datum.s === 'r'"}], "mark": {"type": "line", "color": "black", "clip": true},
   "encoding": {"x": {"field": "t", "type": "quantitative", "scale": {"domain": [265, 335], "nice": false, "zero": false}, "axis": {"title": "Time (seconds)", "values": [270,280,290,300,310,320,330], "format": "d"}},
    "y": {"field": "u", "type": "quantitative", "scale": {"domain": [0, 3], "nice": false}, "axis": {"title": "Utilization", "values": [0,0.5,1,1.5,2,2.5,3], "format": "~g"}},
    "strokeWidth": {"field": "s", "type": "nominal", "scale": {"domain": ["r","q","h"], "range": [1,2,2]}, "legend": {"title": null, "labelExpr": "datum.label === 'r' ? 'Low Cap Replica' : datum.label === 'q' ? 'RequestRate/SumMaxCaps' : '100% Utilization'"}}}},
  {"transform": [{"filter": "datum.p === 'LM' && datum.s === 'q'"}], "mark": {"type": "line", "color": "black", "clip": true},
   "encoding": {"x": {"field": "t", "type": "quantitative", "axis": {"orient": "top", "title": null, "labels": false, "values": [270,280,290,300,310,320,330]}},
    "y": {"field": "u", "type": "quantitative", "axis": {"orient": "right", "title": null, "labels": false, "values": [0.5,1,1.5,2,2.5]}},
    "strokeWidth": {"field": "s", "type": "nominal", "legend": {"title": null, "labelExpr": "datum.label === 'r' ? 'Low Cap Replica' : datum.label === 'q' ? 'RequestRate/SumMaxCaps' : '100% Utilization'"}}}},
  {"data": {"values": [{"u": 1}]}, "mark": {"type": "rule", "color": "black", "strokeWidth": 2}, "encoding": {"y": {"field": "u", "type": "quantitative", "axis": null}}}
 ],
 "resolve": {"axis": {"x": "independent", "y": "independent"}}},
{"width": 291.3, "height": 206.4, "title": {"text": "Medium-capacity, Max-Cap"},
 "layer": [
  {"transform": [{"filter": "datum.p === 'MM' && datum.s === 'r'"}], "mark": {"type": "line", "color": "black", "clip": true},
   "encoding": {"x": {"field": "t", "type": "quantitative", "scale": {"domain": [265, 335], "nice": false, "zero": false}, "axis": {"title": "Time (seconds)", "values": [270,280,290,300,310,320,330], "format": "d"}},
    "y": {"field": "u", "type": "quantitative", "scale": {"domain": [0, 3], "nice": false}, "axis": {"title": "Utilization", "values": [0,0.5,1,1.5,2,2.5,3], "format": "~g"}},
    "strokeWidth": {"field": "s", "type": "nominal", "scale": {"domain": ["r","q","h"], "range": [1.3,2,2]}, "legend": {"title": null, "labelExpr": "datum.label === 'r' ? 'Medium Cap Replica' : datum.label === 'q' ? 'RequestRate/SumMaxCaps' : '100% Utilization'"}}}},
  {"transform": [{"filter": "datum.p === 'MM' && datum.s === 'q'"}], "mark": {"type": "line", "color": "black", "clip": true},
   "encoding": {"x": {"field": "t", "type": "quantitative", "axis": {"orient": "top", "title": null, "labels": false, "values": [270,280,290,300,310,320,330]}},
    "y": {"field": "u", "type": "quantitative", "axis": {"orient": "right", "title": null, "labels": false, "values": [0.5,1,1.5,2,2.5]}},
    "strokeWidth": {"field": "s", "type": "nominal", "legend": {"title": null, "labelExpr": "datum.label === 'r' ? 'Medium Cap Replica' : datum.label === 'q' ? 'RequestRate/SumMaxCaps' : '100% Utilization'"}}}},
  {"data": {"values": [{"u": 1}]}, "mark": {"type": "rule", "color": "black", "strokeWidth": 2}, "encoding": {"y": {"field": "u", "type": "quantitative", "axis": null}}}
 ],
 "resolve": {"axis": {"x": "independent", "y": "independent"}}},
{"width": 291.3, "height": 206.4, "title": {"text": "High-capacity, Max-Cap"},
 "layer": [
  {"transform": [{"filter": "datum.p === 'HM' && datum.s === 'r'"}], "mark": {"type": "line", "color": "black", "clip": true},
   "encoding": {"x": {"field": "t", "type": "quantitative", "scale": {"domain": [265, 335], "nice": false, "zero": false}, "axis": {"title": "Time (seconds)", "values": [270,280,290,300,310,320,330], "format": "d"}},
    "y": {"field": "u", "type": "quantitative", "scale": {"domain": [0, 3], "nice": false}, "axis": {"title": "Utilization", "values": [0,0.5,1,1.5,2,2.5,3], "format": "~g"}},
    "strokeWidth": {"value": 3}}},
  {"transform": [{"filter": "datum.p === 'HM' && datum.s === 'q'"}], "mark": {"type": "line", "color": "black", "clip": true},
   "encoding": {"x": {"field": "t", "type": "quantitative", "axis": {"orient": "top", "title": null, "labels": false, "values": [270,280,290,300,310,320,330]}},
    "y": {"field": "u", "type": "quantitative", "axis": {"orient": "right", "title": null, "labels": false, "values": [0.5,1,1.5,2,2.5]}},
    "strokeWidth": {"field": "s", "type": "nominal", "scale": {"domain": ["r","q","h"], "range": [1,2,2]}, "legend": {"title": null, "labelExpr": "datum.label === 'r' ? 'High Cap Replica' : datum.label === 'q' ? 'RequestRate/SumMaxCaps' : '100% Utilization'"}}}},
  {"data": {"values": [{"u": 1}]}, "mark": {"type": "rule", "color": "black", "strokeWidth": 2}, "encoding": {"y": {"field": "u", "type": "quantitative", "axis": null}}}
 ],
 "resolve": {"axis": {"x": "independent", "y": "independent"}}}
],
"config": {
 "background": "white",
 "view": {"stroke": "black", "strokeWidth": 1},
 "font": "Liberation Sans",
 "axis": {"grid": false, "domain": false, "tickColor": "black", "tickSize": -5, "tickWidth": 1, "labelColor": "black", "titleColor": "black", "labelFont": "Liberation Sans", "labelFontSize": 13.5, "titleFont": "Liberation Sans", "titleFontSize": 14, "titleFontWeight": "normal"},
 "axisX": {"labelPadding": 14, "titlePadding": 8},
 "axisY": {"labelPadding": 14.3, "titlePadding": 15},
 "legend": {"orient": "none", "legendX": 244.4, "legendY": 2.5, "symbolType": "M-2.667,0L2.667,0", "symbolStrokeColor": "black", "symbolSize": 225, "labelFont": "Liberation Sans", "labelFontSize": 14.8, "labelColor": "black", "labelAlign": "right", "labelOffset": -36.8, "padding": 0, "rowPadding": 0, "labelLimit": 0},
 "title": {"font": "Liberation Serif", "fontSize": 26.3, "fontWeight": "normal", "color": "black", "orient": "bottom", "anchor": "middle", "frame": "group", "dx": -19, "offset": 17}
}
}
